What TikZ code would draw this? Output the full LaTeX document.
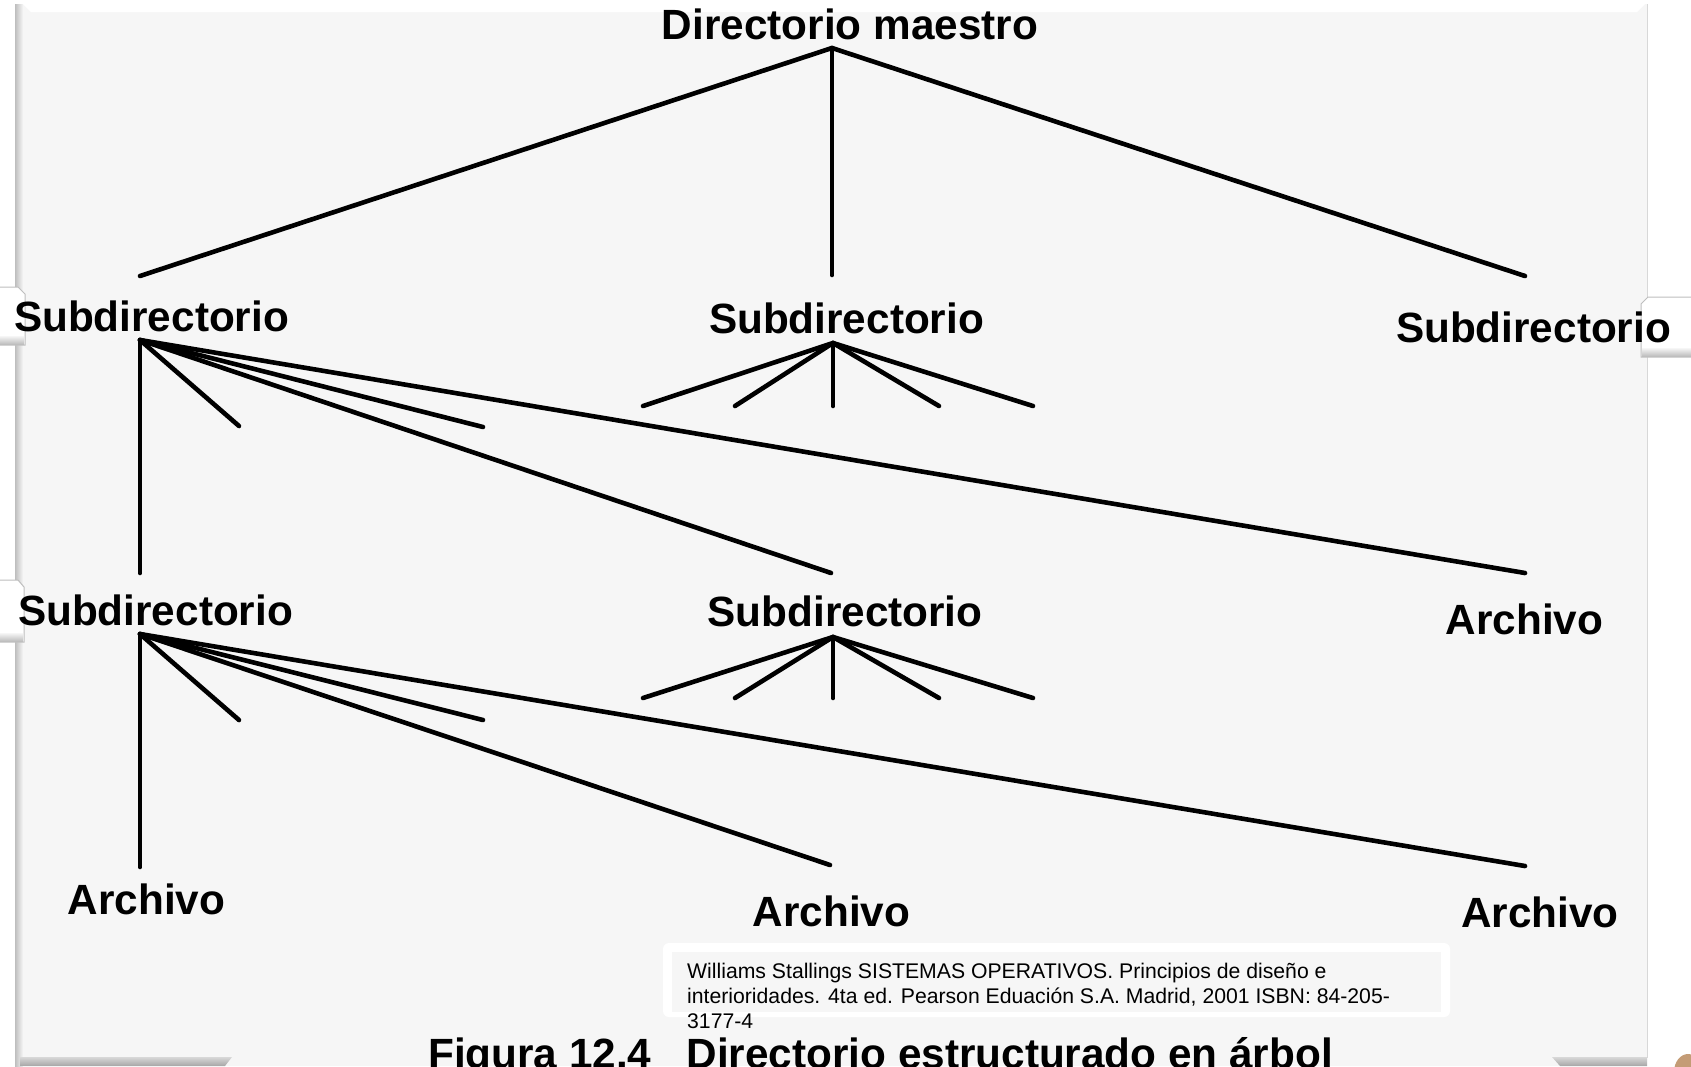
\documentclass[tikz,border=0pt]{standalone}
\usepackage{fontspec}
\setmainfont{Liberation Sans}
\definecolor{panel}{RGB}{246,246,246}
\definecolor{edge}{RGB}{190,190,190}
\definecolor{ornament}{RGB}{196,156,118}
\begin{document}
\begin{tikzpicture}[x=1pt,y=-1pt,
  lbl/.style={font=\fontsize{42.3}{50}\selectfont\bfseries, inner sep=0pt, anchor=base},
  citeline/.style={font=\fontsize{21.2}{25}\selectfont, inner sep=0pt, anchor=base west},
  branch/.style={line width=4.6pt, line cap=round},
  tab/.style={fill=white, draw=edge, line width=1pt},
]
\useasboundingbox (0,0) rectangle (1691,1066);
\fill[white] (0,0) rectangle (1691,1066);

% slide panel with bevelled edges
\fill[panel] (17,4) rectangle (1647,1066);
\shade[left color=edge, right color=panel] (15,4) rectangle (23,1066);
\draw[edge!60, line width=1pt] (1647,4) -- (1647,1058);
\fill[white] (23,4) -- (1645,4) -- (1637,12) -- (31,12) -- cycle;
\shade[top color=edge!60, bottom color=gray!70] (20,1057) -- (232,1057) -- (225,1066) -- (20,1066) -- cycle;
\shade[top color=edge!60, bottom color=gray!70] (1552,1057) -- (1647,1057) -- (1647,1066) -- (1560,1066) -- cycle;

% side tabs
\path[tab] (-2,287) -- (18,287) -- (25,294) -- (25,345) -- (-2,345) -- cycle;
\shade[top color=panel, bottom color=edge] (0,336) rectangle (24,344);
\path[tab] (-2,580) -- (18,580) -- (24,587) -- (24,642) -- (-2,642) -- cycle;
\shade[top color=panel, bottom color=edge] (0,633) rectangle (23,641);
\path[tab] (1693,297) -- (1648,297) -- (1641,304) -- (1641,357) -- (1693,357) -- cycle;
\shade[top color=panel, bottom color=edge] (1642,348) rectangle (1691,356);

% corner ornament
\fill[ornament] (1688,1072) ellipse (14 and 18);

% labels
\node[lbl] (root) at (850,39) {Directorio maestro};
\node[lbl] (s1L) at (151.5,331) {Subdirectorio};
\node[lbl] (s1M) at (846.5,333) {Subdirectorio};
\node[lbl] (s1R) at (1533.5,342) {Subdirectorio};
\node[lbl] (s2L) at (155.5,625) {Subdirectorio};
\node[lbl] (s2M) at (845,626) {Subdirectorio};
\node[lbl] (a2R) at (1524.5,634) {Archivo};
\node[lbl] (a3L) at (146.5,914) {Archivo};
\node[lbl] (a3M) at (831.5,926) {Archivo};
\node[lbl] (a3R) at (1540,927) {Archivo};

% branch points and line ends
\coordinate (root-o) at (832,48);
\coordinate (s1L-i) at (140,276);
\coordinate (s1M-i) at (832,275);
\coordinate (s1R-i) at (1525,276);

\coordinate (s1L-o) at (140,340);
\coordinate (s2L-i) at (140,573);
\coordinate (s1L-x1) at (239,426);
\coordinate (s1L-x2) at (483,427);
\coordinate (s2M-i) at (831,573);
\coordinate (a2R-i) at (1525,573);

\coordinate (s1M-o) at (833,343);
\coordinate (s2L-o) at (140,634);
\coordinate (a3L-i) at (140,867);
\coordinate (s2L-x1) at (239,720);
\coordinate (s2L-x2) at (483,720);
\coordinate (a3M-i) at (830,865);
\coordinate (a3R-i) at (1525,866);

\coordinate (s2M-o) at (833,637);

% master directory
\draw[branch] (root-o) -- (s1L-i);
\draw[branch] (root-o) -- (s1M-i);
\draw[branch] (root-o) -- (s1R-i);

% first-level subdirectory
\draw[branch] (s1L-o) -- (s2L-i);
\draw[branch] (s1L-o) -- (s1L-x1);
\draw[branch] (s1L-o) -- (s1L-x2);
\draw[branch] (s1L-o) -- (s2M-i);
\draw[branch] (s1L-o) -- (a2R-i);

% second-level subdirectory
\draw[branch] (s2L-o) -- (a3L-i);
\draw[branch] (s2L-o) -- (s2L-x1);
\draw[branch] (s2L-o) -- (s2L-x2);
\draw[branch] (s2L-o) -- (a3M-i);
\draw[branch] (s2L-o) -- (a3R-i);

% open fans below the middle subdirectories
\foreach \fan/\y in {s1M/406, s2M/698}{
  \foreach \x [count=\k] in {643,735,833,939,1033}{
    \coordinate (\fan-f\k) at (\x,\y);
    \draw[branch] (\fan-o) -- (\fan-f\k);
  }
}

% reference box
\fill[white, rounded corners=6pt] (663,943) rectangle (1450,1017);
\fill[panel] (672,952) rectangle (1441,1012);
\node[citeline] (cite1) at (687,978) {Williams Stallings SISTEMAS OPERATIVOS. Principios de diseño e};
\node[citeline] (cite2) at (687,1003) {interioridades. 4ta ed. Pearson Eduación S.A. Madrid, 2001 ISBN: 84-205-};
\node[citeline] (cite3) at (687,1028) {3177-4};

% caption
\node[font=\fontsize{42.3}{50}\selectfont\bfseries, inner sep=0pt, anchor=base west] (caption) at (428,1068)
  {Figura 12.4\hspace{35pt}Directorio estructurado en árbol};
\end{tikzpicture}
\end{document}
